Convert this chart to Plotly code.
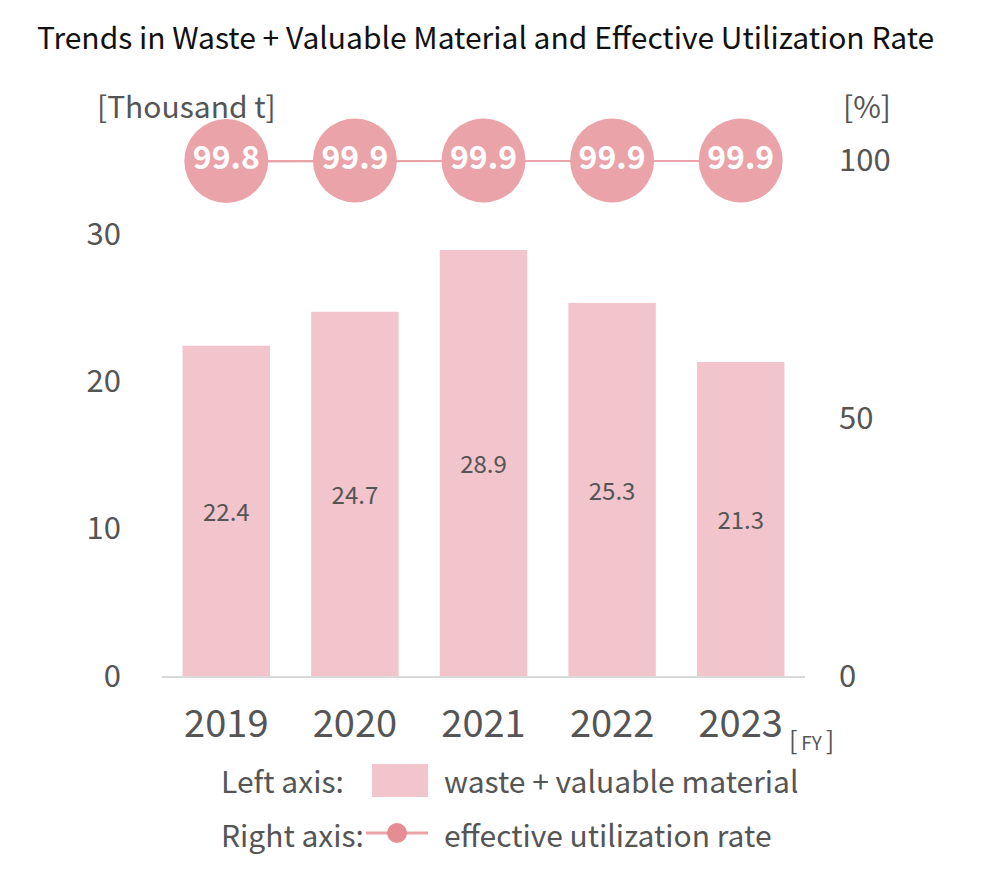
import plotly.graph_objects as go

years = ["2019", "2020", "2021", "2022", "2023"]
waste = [22.4, 24.7, 28.9, 25.3, 21.3]
rate = [99.8, 99.9, 99.9, 99.9, 99.9]
rate_labels = ["99.8", "99.9", "99.9", "99.9", "99.9"]

BAR = "#f2c4cb"
DOT = "#eaa3a8"
GREY = "#555555"
FONT = "Noto Sans CJK JP"

# page puts an 8px margin round the plot, so work in shifted pixels
OFF = 8
W, H = 984 - 2 * OFF, 872 - 2 * OFF
L, R, T, B = 162 - OFF, 805 - OFF, 160 - OFF, 676 - OFF


def px_x(x):
    return (x - OFF - L) / (R - L)


def px_y(y):
    return (B - (y - OFF)) / (B - T)


fig = go.Figure()
fig.add_trace(go.Bar(
    x=years, y=waste, marker_color=BAR, marker_line_width=0,
    text=[f"{v:.1f}" for v in waste], textposition="inside",
    insidetextanchor="middle", textfont=dict(size=24, color=GREY, family=FONT),
    yaxis="y", showlegend=False,
))
fig.add_trace(go.Scatter(
    x=years, y=rate, mode="lines+markers+text", yaxis="y2",
    line=dict(color=DOT, width=3),
    marker=dict(size=84, color=DOT, line_width=0),
    text=rate_labels, textposition="middle center",
    textfont=dict(size=32, color="white", family=FONT, weight="bold"),
    showlegend=False, cliponaxis=False,
))

fig.update_layout(
    width=W, height=H,
    margin=dict(l=L, r=W - R, t=T, b=H - B),
    paper_bgcolor="white", plot_bgcolor="white",
    font=dict(family=FONT, color=GREY),
    bargap=0.32,
    title=dict(text="Trends in Waste + Valuable Material and Effective Utilization Rate",
               x=(37 - OFF) / W, xanchor="left", y=1 - (38 - OFF) / H, yanchor="middle",
               font=dict(size=30, color="#111111", family=FONT)),
    xaxis=dict(range=[-0.5, 4.5], showgrid=False, showline=True, linecolor="#d9d9d9",
               linewidth=2, ticks="", tickfont=dict(size=38, color=GREY),
               ticklabelstandoff=13),
    yaxis=dict(range=[0, 35], tickvals=[0, 10, 20, 30], showgrid=False,
               zeroline=False, showline=False, tickfont=dict(size=31, color=GREY),
               ticklabelstandoff=40),
    yaxis2=dict(range=[0, 100], tickvals=[0, 50, 100], overlaying="y", side="right",
                showgrid=False, zeroline=False, showline=False,
                tickfont=dict(size=31, color=GREY), ticklabelstandoff=33),
)

ann = [
    ("[Thousand t]", 95, 105, "left", 30),
    ("[%]", 841, 105, "left", 30),
    ("[<span style='font-size:19px'>\u2009FY\u2009</span>]", 787, 739, "left", 25),
    ("Left axis:", 346, 780, "right", 30),
    ("waste + valuable material", 442, 780, "left", 30),
    ("Right axis:", 366, 834, "right", 30),
    ("effective utilization rate", 442, 834, "left", 30),
]
for text, x, y, anchor, size in ann:
    fig.add_annotation(text=text, x=px_x(x), y=px_y(y), xref="paper", yref="paper",
                       xanchor=anchor, yanchor="middle", showarrow=False,
                       font=dict(size=size, color=GREY, family=FONT))

# legend symbols
fig.add_shape(type="rect", xref="paper", yref="paper", x0=px_x(372), x1=px_x(428),
              y0=px_y(797), y1=px_y(764), fillcolor=BAR, line_width=0)
fig.add_shape(type="line", xref="paper", yref="paper", x0=px_x(366), x1=px_x(428),
              y0=px_y(833), y1=px_y(833), line=dict(color=DOT, width=3))
fig.add_shape(type="circle", xref="paper", yref="paper", x0=px_x(387), x1=px_x(407),
              y0=px_y(843), y1=px_y(823), fillcolor="#e68c93", line_width=0)

fig.write_html("out.html")
